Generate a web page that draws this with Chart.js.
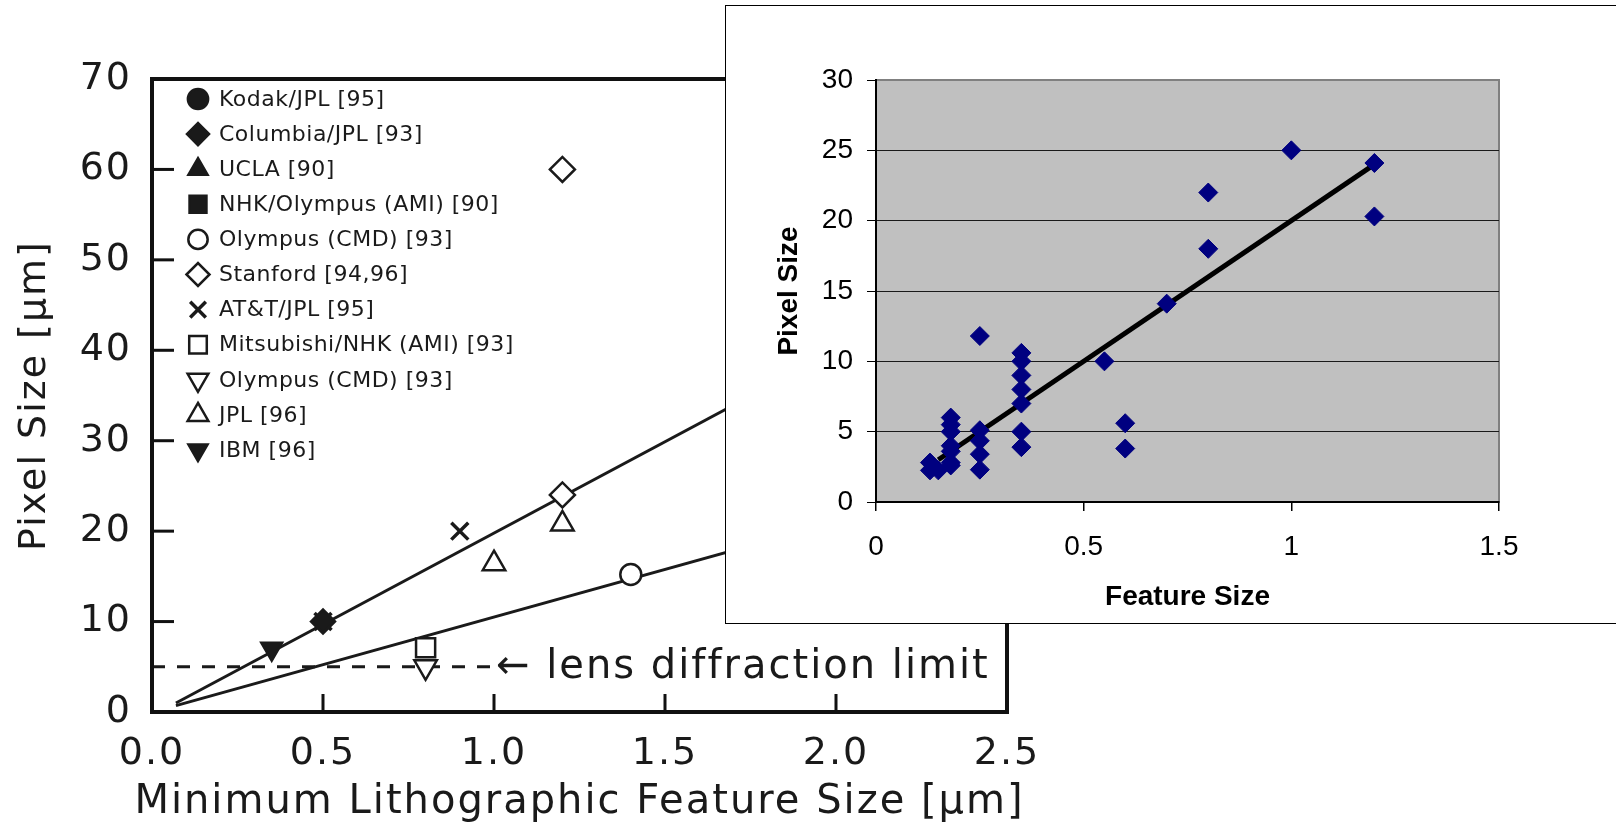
<!DOCTYPE html>
<html>
<head>
<meta charset="utf-8">
<script src="https://cdn.jsdelivr.net/npm/chart.js@4.4.1/dist/chart.umd.min.js"></script>
<style>
    html, body { margin: 0; padding: 0; background: #fff; overflow: hidden; width: 1616px; height: 827px; }
    #main { position: absolute; left: 0; top: 0; }
    #insetBox { position: absolute; left: 725px; top: 5px; width: 1000px; height: 619px; box-sizing: border-box; border: 1.5px solid #000; background: #fff; }
    #inset { position: absolute; left: 726px; top: 6px; }
</style>
</head>
<body>
<canvas id="main" width="1616" height="827"></canvas>
<div id="insetBox"></div>
<canvas id="inset" width="890" height="616"></canvas>
<script>
// ---- left (scanned) chart ----
const leftXTicks = ['0.0', '0.5', '1.0', '1.5', '2.0', '2.5'];
const leftYTicks = ['0', '10', '20', '30', '40', '50', '60', '70'];
const leftXTickValues = [0, 0.5, 1.0, 1.5, 2.0, 2.5];
const leftYTickValues = [0, 10, 20, 30, 40, 50, 60, 70];

const kodakX = [], kodakY = [];
const columbiaX = [0.5], columbiaY = [10];
const uclaX = [], uclaY = [];
const nhkX = [], nhkY = [];
const olympusCmdX = [1.4], olympusCmdY = [15.2];
const stanfordX = [1.2, 1.2], stanfordY = [60, 24];
const attX = [0.5, 0.9], attY = [10, 20];
const mitsubishiX = [0.8], mitsubishiY = [7.1];
const olympusTriX = [0.8], olympusTriY = [5];
const jplX = [1.0, 1.2], jplY = [16.4, 20.8];
const ibmX = [0.35], ibmY = [7];

const fitX = [0.07, 2.5];
const upperFitY = [1.0, 50.1];
const lowerFitY = [0.7, 26.3];
const limitX = [0, 1.0], limitY = [5, 5];

// ---- inset chart ----
const insetXTicks = ['0', '0.5', '1', '1.5'];
const insetYTicks = ['0', '5', '10', '15', '20', '25', '30'];
const featureSize = [1.0, 1.2, 1.2, 0.8, 0.8, 0.7, 0.55, 0.6, 0.6, 0.25,
    0.35, 0.35, 0.35, 0.35, 0.35, 0.35, 0.35,
    0.25, 0.25, 0.25, 0.25,
    0.18, 0.18, 0.18, 0.18, 0.18, 0.18, 0.18,
    0.13, 0.13, 0.15];
const pixelSize = [25, 24.1, 20.3, 22.0, 18.0, 14.1, 10.0, 5.6, 3.8, 11.8,
    10.6, 10.0, 9.0, 8.0, 7.0, 5.0, 3.9,
    5.1, 4.35, 3.4, 2.3,
    6.0, 5.5, 5.0, 4.0, 3.6, 2.8, 2.6,
    2.8, 2.25, 2.25];
const trendX = [0.15, 1.2], trendY = [3, 24];

const pts = (xs, ys) => xs.map((x, i) => ({ x: x, y: ys[i] }));

const INK = '#1a1a1a';
const SCAN_FONT = 'DejaVu Sans';

function marker(label, xs, ys, style, radius, filled, extra) {
    return Object.assign({
        type: 'scatter',
        label: label,
        data: pts(xs, ys),
        pointStyle: style,
        pointRadius: radius,
        pointBackgroundColor: filled ? INK : '#fff',
        pointBorderColor: INK,
        pointBorderWidth: 2.5,
        pointRotation: 0
    }, extra || {});
}

const markerSets = [
    marker('Kodak/JPL [95]', kodakX, kodakY, 'circle', 11, true),
    marker('Columbia/JPL [93]', columbiaX, columbiaY, 'rectRot', 12, true),
    marker('UCLA [90]', uclaX, uclaY, 'triangle', 12, true),
    marker('NHK/Olympus (AMI) [90]', nhkX, nhkY, 'rect', 13, true),
    marker('Olympus (CMD) [93]', olympusCmdX, olympusCmdY, 'circle', 10.5, false),
    marker('Stanford [94,96]', stanfordX, stanfordY, 'rectRot', 12.5, false),
    marker('AT&T/JPL [95]', attX, attY, 'crossRot', 12, false, { pointBorderWidth: 3.5 }),
    marker('Mitsubishi/NHK (AMI) [93]', mitsubishiX, mitsubishiY, 'rect', 13.5, false),
    marker('Olympus (CMD) [93]', olympusTriX, olympusTriY, 'triangle', 13, false, { pointRotation: 180 }),
    marker('JPL [96]', jplX, jplY, 'triangle', 13, false),
    marker('IBM [96]', ibmX, ibmY, 'triangle', 12, true, { pointRotation: 180 })
];

const lineSets = [
    { type: 'line', label: 'upper', data: pts(fitX, upperFitY), borderColor: INK, borderWidth: 3, pointRadius: 0, fill: false },
    { type: 'line', label: 'lower', data: pts(fitX, lowerFitY), borderColor: INK, borderWidth: 3, pointRadius: 0, fill: false },
    { type: 'line', label: 'limit', data: pts(limitX, limitY), borderColor: INK, borderWidth: 3, borderDash: [13, 12], pointRadius: 0, fill: false }
];

const spacingPlugin = {
    id: 'spacing',
    beforeUpdate(chart) { chart.ctx.letterSpacing = '2px'; },
    beforeDraw(chart) { chart.ctx.letterSpacing = '2px'; }
};

const framePlugin = {
    id: 'frame',
    afterDraw(chart) {
        const ctx = chart.ctx, a = chart.chartArea, x = chart.scales.x, y = chart.scales.y;
        ctx.save();
        ctx.setLineDash([]);
        ctx.fillStyle = '#111';
        // inward tick marks
        leftYTickValues.slice(1, -1).forEach(v => {
            const py = y.getPixelForValue(v);
            ctx.fillRect(a.left, py - 1.5, 22, 3);
        });
        leftXTickValues.slice(1, -1).forEach(v => {
            const px = x.getPixelForValue(v);
            ctx.fillRect(px - 1.5, a.bottom - 18, 3, 18);
        });
        ctx.strokeStyle = '#111';
        ctx.lineWidth = 4;
        ctx.strokeRect(a.left, a.top, a.right - a.left, a.bottom - a.top);

        // note next to the dashed line
        ctx.fillStyle = INK;
        ctx.font = '40px "' + SCAN_FONT + '"';
        ctx.textAlign = 'left';
        ctx.textBaseline = 'alphabetic';
        ctx.fillText('\u2190 lens diffraction limit', x.getPixelForValue(limitX[1]) + 2, y.getPixelForValue(limitY[1]) + 11);

        // x axis title (wider than the plot, so drawn here)
        ctx.font = '40px "' + SCAN_FONT + '"';
        ctx.textAlign = 'center';
        ctx.textBaseline = 'middle';
        ctx.fillText('Minimum Lithographic Feature Size [\u03bcm]', (a.left + a.right) / 2, 803);

        // legend inside the plot
        ctx.letterSpacing = '0.5px';
        ctx.font = '22px "' + SCAN_FONT + '"';
        ctx.textAlign = 'left';
        markerSets.forEach((ds, i) => {
            const ly = a.top + 20 + i * 35.1;
            ctx.fillStyle = ds.pointBackgroundColor;
            ctx.strokeStyle = ds.pointBorderColor;
            ctx.lineWidth = ds.pointBorderWidth;
            Chart.helpers.drawPoint(ctx, {
                pointStyle: ds.pointStyle,
                radius: ds.pointRadius * 0.92,
                rotation: ds.pointRotation,
                borderWidth: ds.pointBorderWidth
            }, 198, ly);
            ctx.fillStyle = INK;
            ctx.fillText(ds.label, 219, ly + 1);
        });
        ctx.restore();
    }
};

new Chart(document.getElementById('main').getContext('2d'), {
    data: { datasets: markerSets.concat(lineSets) },
    options: {
        responsive: false,
        animation: false,
        devicePixelRatio: 1,
        layout: { padding: { left: 0, top: 79, right: 609, bottom: 0 } },
        plugins: { legend: { display: false }, tooltip: { enabled: false } },
        scales: {
            x: {
                type: 'linear', min: 0, max: 2.5,
                afterFit: s => { s.height = 115; },
                grid: { display: false, drawTicks: false },
                border: { display: false },
                ticks: {
                    stepSize: 0.5, padding: 19, maxRotation: 0, color: INK,
                    font: { family: SCAN_FONT, size: 38 },
                    callback: (v, i) => leftXTicks[i]
                },
                title: { display: false }
            },
            y: {
                type: 'linear', min: 0, max: 70,
                afterFit: s => { s.width = 152; },
                grid: { display: false, drawTicks: false },
                border: { display: false },
                ticks: {
                    stepSize: 10, padding: 20, color: INK,
                    font: { family: SCAN_FONT, size: 38 },
                    callback: (v, i) => leftYTicks[i]
                },
                title: {
                    display: true, text: 'Pixel Size [\u03bcm]', color: INK,
                    font: { family: SCAN_FONT, size: 38 }, padding: { top: 12, bottom: 0 }
                }
            }
        }
    },
    plugins: [spacingPlugin, framePlugin]
});

// ---- inset ----
const plotBg = {
    id: 'plotBg',
    beforeDraw(chart) {
        const ctx = chart.ctx, a = chart.chartArea;
        ctx.save();
        ctx.fillStyle = '#c0c0c0';
        ctx.fillRect(a.left, a.top, a.right - a.left, a.bottom - a.top);
        ctx.strokeStyle = '#808080';
        ctx.lineWidth = 2;
        ctx.strokeRect(a.left, a.top, a.right - a.left, a.bottom - a.top);
        ctx.restore();
    }
};

new Chart(document.getElementById('inset').getContext('2d'), {
    data: {
        datasets: [
            {
                type: 'scatter', label: 'Pixel Size', data: pts(featureSize, pixelSize),
                pointStyle: 'rectRot', pointRadius: 9.5,
                pointBackgroundColor: '#000080', pointBorderColor: '#000080', pointBorderWidth: 1, order: 0
            },
            {
                type: 'line', label: 'Trend', data: pts(trendX, trendY),
                borderColor: '#000', borderWidth: 5, pointRadius: 0, fill: false, order: 1
            }
        ]
    },
    options: {
        responsive: false,
        animation: false,
        devicePixelRatio: 1,
        layout: { padding: { left: 0, top: 74, right: 117, bottom: 0 } },
        plugins: { legend: { display: false }, tooltip: { enabled: false } },
        scales: {
            x: {
                type: 'linear', min: 0, max: 1.5,
                afterFit: s => { s.height = 120; },
                grid: { drawOnChartArea: false, tickLength: 9, tickColor: '#000', lineWidth: 1.5 },
                border: { color: '#000', width: 2 },
                ticks: {
                    stepSize: 0.5, padding: 19, maxRotation: 0, color: '#000',
                    font: { family: 'Liberation Sans', size: 28 },
                    callback: (v, i) => insetXTicks[i]
                },
                title: {
                    display: true, text: 'Feature Size', color: '#000',
                    font: { family: 'Liberation Sans', size: 28, weight: 'bold' }, padding: { top: 0, bottom: 8 }
                }
            },
            y: {
                type: 'linear', min: 0, max: 30,
                afterFit: s => { s.width = 150; },
                grid: {
                    color: c => (c.tick && c.tick.value >= 30) ? 'rgba(0,0,0,0)' : '#1a1a1a',
                    lineWidth: 1, tickLength: 9, tickColor: '#000'
                },
                border: { color: '#000', width: 2 },
                ticks: {
                    stepSize: 5, padding: 14, color: '#000',
                    font: { family: 'Liberation Sans', size: 28 },
                    callback: (v, i) => insetYTicks[i]
                },
                title: {
                    display: true, text: 'Pixel Size', color: '#000',
                    font: { family: 'Liberation Sans', size: 28, weight: 'bold' }, padding: { top: 46, bottom: 0 }
                }
            }
        }
    },
    plugins: [plotBg]
});
</script>
</body>
</html>
